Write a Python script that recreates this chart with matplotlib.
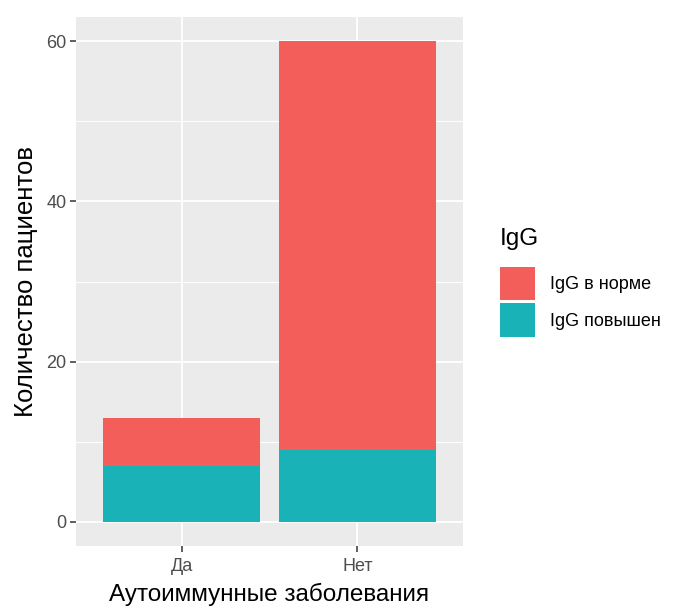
import matplotlib.pyplot as plt
import numpy as np

plt.rcParams["font.family"] = ["Liberation Sans", "DejaVu Sans"]

# data
categories = ["Да", "Нет"]
igg_high = [7, 9]      # IgG повышен
igg_norm = [6, 51]     # IgG в норме
series_labels = ["IgG в норме", "IgG повышен"]
y_ticks = [0, 20, 40, 60]

col_norm = "#F35E5A"
col_high = "#19B2B6"

fig = plt.figure(figsize=(6.76, 6.08), dpi=100)
ax = fig.add_axes([0.1124, 0.102, 0.5725, 0.870])
ax.set_facecolor("#EBEBEB")

x = np.arange(len(categories)) + 1
b_high = ax.bar(x, igg_high, width=0.89, color=col_high, zorder=3)
b_norm = ax.bar(x, igg_norm, width=0.89, bottom=igg_high, color=col_norm, zorder=3)

ax.set_xlim(0.4, 2.6)
ax.set_ylim(-3, 63)
ax.set_xticks(x)
ax.set_xticklabels(categories)
ax.set_yticks(y_ticks)
ax.set_yticks([10, 30, 50], minor=True)

ax.grid(which="major", color="white", linewidth=1.3, zorder=0)
ax.grid(which="minor", axis="y", color="white", linewidth=0.7, zorder=0)
ax.set_axisbelow(True)
for s in ax.spines.values():
    s.set_visible(False)

ax.tick_params(axis="both", which="major", colors="#333333", labelcolor="#4D4D4D",
               labelsize=13, length=4, width=1.1, pad=3)
ax.tick_params(axis="x", which="major", pad=5)
ax.tick_params(axis="both", which="minor", length=0)

ax.set_xlabel("Аутоиммунные заболевания", fontsize=17.5, color="black", labelpad=5)
ax.set_ylabel("Количество пациентов", fontsize=18.5, color="black", labelpad=6)

leg = fig.legend([b_norm, b_high], series_labels, title="IgG",
                 loc="upper left", bbox_to_anchor=(0.740, 0.625),
                 frameon=False, fontsize=13, title_fontsize=17.5,
                 handlelength=1.95, handleheight=2.5, handletextpad=0.8,
                 labelspacing=0.15, borderaxespad=0, borderpad=0)
leg._legend_box.align = "left"
leg._legend_box.sep = 12

fig.savefig("out.png", dpi=100)
